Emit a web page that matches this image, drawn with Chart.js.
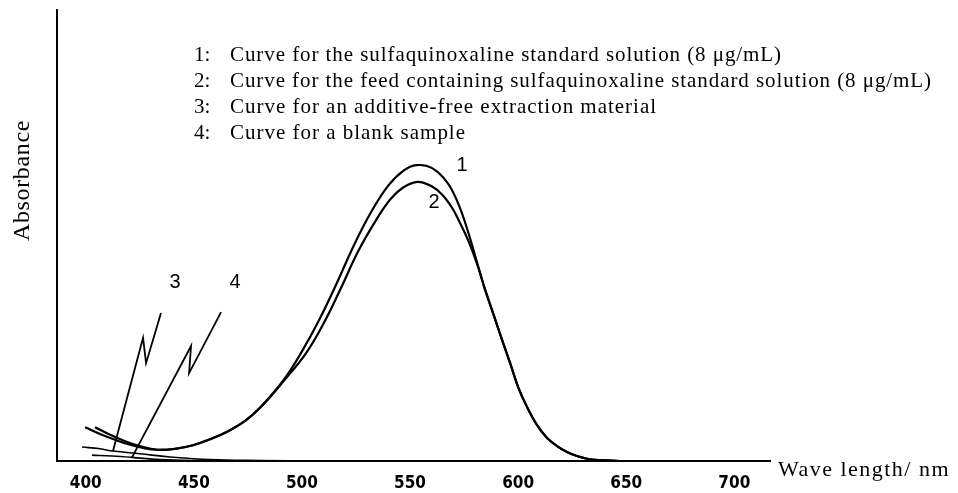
<!DOCTYPE html>
<html>
<head>
<meta charset="utf-8">
<script src="https://cdn.jsdelivr.net/npm/chart.js@4.4.1/dist/chart.umd.min.js"></script>
<style>
  body { margin: 0; background: #fff; }
  #wrap { width: 958px; height: 493px; }
</style>
</head>
<body>
<div id="wrap"><canvas id="myChart" width="958" height="493"></canvas></div>
<script>
// wavelength (nm) / absorbance
const curve1Nm  = [399.7, 406.6, 413.6, 420.5, 427.4, 433.0, 441.3, 449.6, 457.5, 465.4, 473.7, 480.6, 491.3, 500.0, 508.0, 516.0, 524.0, 532.0, 540.0, 547.0, 553.0, 560.0, 567.0, 572.0, 576.4, 581.0, 584.7, 588.4, 592.6, 596.3, 600.0, 604.1, 608.7, 613.4, 618.0, 622.6, 627.2, 631.9, 637.9, 647.1, 716.5];
const curve1Abs = [0.075, 0.060, 0.047, 0.036, 0.028, 0.025, 0.027, 0.035, 0.048, 0.065, 0.089, 0.118, 0.178, 0.243, 0.313, 0.393, 0.478, 0.552, 0.611, 0.644, 0.656, 0.650, 0.619, 0.574, 0.515, 0.440, 0.380, 0.328, 0.268, 0.217, 0.164, 0.120, 0.080, 0.051, 0.033, 0.020, 0.011, 0.005, 0.002, 0, 0];

const curve2Nm  = [404.3, 411.3, 418.2, 425.1, 433.0, 441.3, 449.6, 457.5, 465.4, 473.7, 480.6, 491.3, 502.0, 510.0, 518.0, 526.0, 534.0, 541.0, 547.0, 553.5, 560.0, 565.0, 569.5, 573.0, 577.0, 581.0, 584.7, 588.4, 592.6, 596.3, 600.0, 604.1, 608.7, 613.4, 618.0, 622.6, 627.2, 631.9, 637.9, 647.1, 716.5];
const curve2Abs = [0.075, 0.058, 0.044, 0.033, 0.025, 0.027, 0.035, 0.048, 0.065, 0.089, 0.118, 0.176, 0.240, 0.305, 0.383, 0.465, 0.532, 0.581, 0.607, 0.619, 0.609, 0.590, 0.561, 0.529, 0.488, 0.437, 0.380, 0.328, 0.268, 0.217, 0.164, 0.120, 0.080, 0.051, 0.033, 0.020, 0.011, 0.005, 0.002, 0, 0];

const curve3Nm  = [398.3, 406.6, 412.6, 425.1, 439.0, 457.5, 480.6, 508.4, 716.5];
const curve3Abs = [0.031, 0.027, 0.022, 0.016, 0.009, 0.003, 0.001, 0, 0];

const curve4Nm  = [402.9, 412.2, 421.4, 434.4, 452.9, 480.6, 716.5];
const curve4Abs = [0.013, 0.011, 0.008, 0.003, 0.001, 0, 0];

// zigzag leader lines for labels 3 and 4
const leader3Nm  = [412.6, 426.5, 427.9, 434.8];
const leader3Abs = [0.022, 0.273, 0.217, 0.328];
const leader4Nm  = [421.4, 448.7, 447.8, 462.6];
const leader4Abs = [0.008, 0.255, 0.195, 0.330];

const curveTags  = ['1', '2', '3', '4'];
const tagNm      = [574.1, 561.1, 441.3, 469.1];
const tagAbs     = [0.656, 0.574, 0.395, 0.395];

const legendLines = [
  'Curve for the sulfaquinoxaline standard solution (8 μg/mL)',
  'Curve for the feed containing sulfaquinoxaline standard solution (8 μg/mL)',
  'Curve for an additive-free extraction material',
  'Curve for a blank sample'
];
const legendEnds = [782, 932, 657, 466];

const xTitle = 'Wave length/ nm';
const yTitle = 'Absorbance';

function pts(xs, ys) {
  return xs.map((x, i) => ({ x: x, y: ys[i] }));
}

function curve(xs, ys, w, tension) {
  return {
    data: pts(xs, ys),
    borderColor: '#000',
    borderWidth: w,
    pointRadius: 0,
    fill: false,
    tension: tension
  };
}

function spreadText(ctx, txt, x, y, endX) {
  ctx.letterSpacing = '0px';
  const w = ctx.measureText(txt).width;
  const ls = (endX - x - w) / txt.length;
  ctx.letterSpacing = ls + 'px';
  ctx.fillText(txt, x, y);
  ctx.letterSpacing = '0px';
}

const textPlugin = {
  id: 'textPlugin',
  afterDraw(chart) {
    const ctx = chart.ctx;
    const xs = chart.scales.x, ys = chart.scales.y;
    ctx.save();
    ctx.fillStyle = '#000';

    // legend block
    ctx.font = '21px "Liberation Serif", "Times New Roman", serif';
    ctx.textBaseline = 'middle';
    ctx.textAlign = 'left';
    legendLines.forEach((t, i) => {
      const y = 55 + i * 26;
      ctx.fillText(curveTags[i] + ':', 194, y);
      spreadText(ctx, t, 230, y, legendEnds[i]);
    });

    // curve numbers
    ctx.font = '20px "Liberation Sans", Arial, sans-serif';
    ctx.textAlign = 'center';
    curveTags.forEach((t, i) => {
      ctx.fillText(t, xs.getPixelForValue(tagNm[i]), ys.getPixelForValue(tagAbs[i]));
    });

    // axis titles
    ctx.font = '22px "Liberation Serif", "Times New Roman", serif';
    ctx.textAlign = 'left';
    spreadText(ctx, xTitle, 778, 470, 950);

    ctx.font = '24px "Liberation Serif", "Times New Roman", serif';
    ctx.translate(23, 241);
    ctx.rotate(-Math.PI / 2);
    spreadText(ctx, yTitle, 0, 0, 121);
    ctx.restore();
  }
};

const ctx = document.getElementById('myChart').getContext('2d');
new Chart(ctx, {
  type: 'line',
  data: {
    datasets: [
      curve(curve1Nm, curve1Abs, 2.2, 0.4),
      curve(curve2Nm, curve2Abs, 2.2, 0.4),
      curve(curve3Nm, curve3Abs, 1.6, 0.4),
      curve(curve4Nm, curve4Abs, 1.6, 0.4),
      curve(leader3Nm, leader3Abs, 1.8, 0),
      curve(leader4Nm, leader4Abs, 1.8, 0)
    ]
  },
  options: {
    responsive: false,
    animation: false,
    layout: { padding: { left: 57, right: 188, top: 10, bottom: 0 } },
    plugins: {
      legend: { display: false },
      tooltip: { enabled: false }
    },
    scales: {
      x: {
        type: 'linear',
        min: 386.7,
        max: 716.5,
        afterFit: (s) => { s.height = 32; },
        grid: { display: false, drawTicks: false },
        border: { display: true, color: '#000', width: 2 },
        ticks: {
          stepSize: 50,
          includeBounds: false,
          padding: 12,
          color: '#000',
          font: { family: '"Liberation Sans Narrow", "DejaVu Sans Condensed", sans-serif', size: 17, weight: 'bold' },
          callback: (v) => String(v)
        }
      },
      y: {
        type: 'linear',
        min: 0,
        max: 1,
        afterFit: (s) => { s.width = 0; },
        grid: { display: false, drawTicks: false },
        border: { display: true, color: '#000', width: 2 },
        ticks: { display: false }
      }
    }
  },
  plugins: [textPlugin]
});
</script>
</body>
</html>
